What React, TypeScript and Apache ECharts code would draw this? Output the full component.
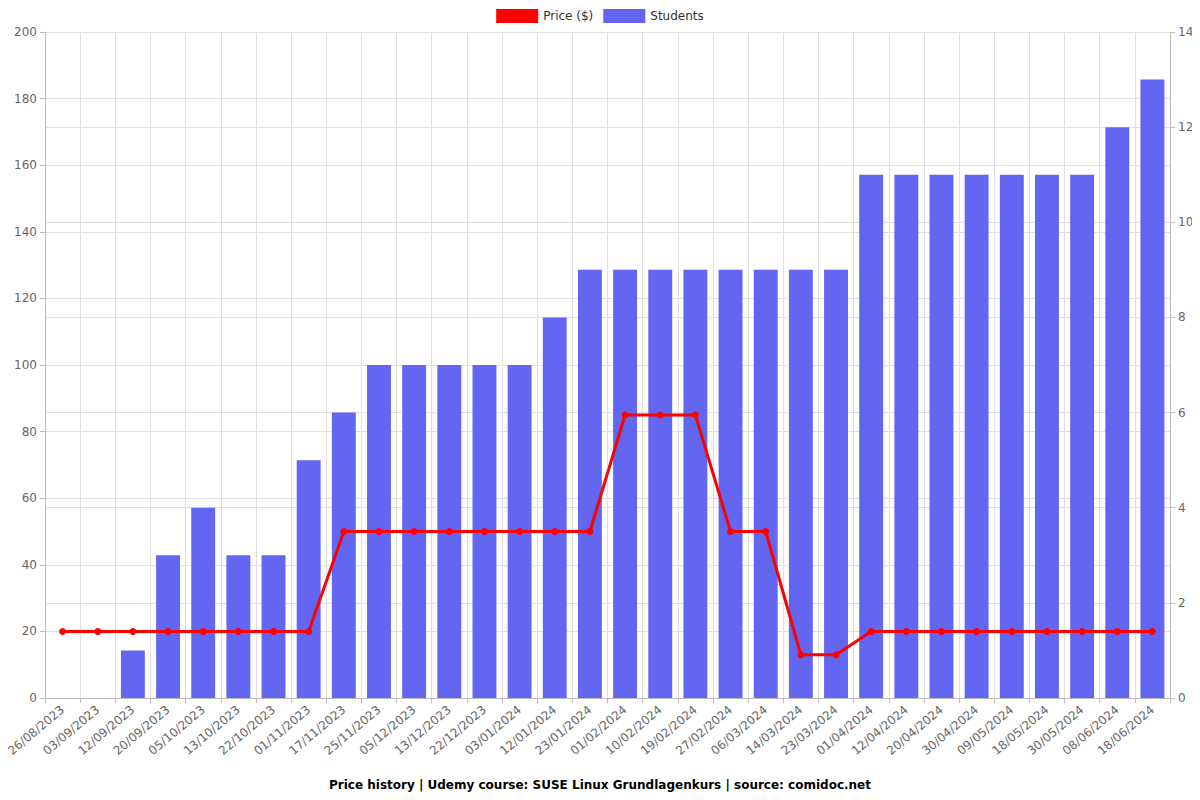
import React, { useEffect, useRef } from "react";
import * as echarts from "echarts";

const categories = ["26/08/2023","03/09/2023","12/09/2023","20/09/2023","05/10/2023","13/10/2023","22/10/2023","01/11/2023","17/11/2023","25/11/2023","05/12/2023","13/12/2023","22/12/2023","03/01/2024","12/01/2024","23/01/2024","01/02/2024","10/02/2024","19/02/2024","27/02/2024","06/03/2024","14/03/2024","23/03/2024","01/04/2024","12/04/2024","20/04/2024","30/04/2024","09/05/2024","18/05/2024","30/05/2024","08/06/2024","18/06/2024"];
const prices = [19.99,19.99,19.99,19.99,19.99,19.99,19.99,19.99,49.99,49.99,49.99,49.99,49.99,49.99,49.99,49.99,84.99,84.99,84.99,49.99,49.99,12.99,12.99,19.99,19.99,19.99,19.99,19.99,19.99,19.99,19.99,19.99];
const students = [0,0,1,3,4,3,3,5,6,7,7,7,7,7,8,9,9,9,9,9,9,9,9,11,11,11,11,11,11,11,12,13];

export default function App() {
  const ref = useRef<HTMLDivElement>(null);
  useEffect(() => {
    const chart = echarts.init(ref.current!, null, { renderer: "svg" });
    chart.setOption({
      animation: false,
      textStyle: { fontFamily: "DejaVu Sans" },
      title: {
        text: "Price history | Udemy course: SUSE Linux Grundlagenkurs | source: comidoc.net",
        left: "center",
        bottom: 4,
        textStyle: { fontSize: 12, fontWeight: "bold", color: "#000", fontFamily: "DejaVu Sans" },
      },
      legend: {
        top: 4,
        left: "center",
        itemWidth: 42,
        itemHeight: 14,
        itemGap: 10,
        textStyle: { fontSize: 12, color: "#333" },
        data: [
          { name: "Price ($)", icon: "rect", itemStyle: { color: "#ff0000" } },
          { name: "Students", icon: "rect", itemStyle: { color: "#6366f1" } },
        ],
      },
      grid: { left: 45, right: 30, top: 32, bottom: 102, containLabel: false, outerBoundsMode: "none" },
      xAxis: {
        type: "category",
        data: categories,
        boundaryGap: true,
        axisLine: { lineStyle: { color: "#bbb" } },
        axisTick: { show: true, alignWithLabel: false, lineStyle: { color: "#bbb" } },
        axisLabel: { rotate: 40, fontSize: 12, color: "#666", interval: 0, margin: 10 },
        splitLine: { show: true, lineStyle: { color: "#e0e0e0" } },
      },
      yAxis: [
        {
          type: "value",
          min: 0,
          max: 200,
          interval: 20,
          axisLine: { show: true, lineStyle: { color: "#bbb" } },
          axisTick: { show: true, lineStyle: { color: "#bbb" } },
          axisLabel: { fontSize: 12, color: "#666" },
          splitLine: { show: true, lineStyle: { color: "#e0e0e0" } },
        },
        {
          type: "value",
          min: 0,
          max: 14,
          interval: 2,
          position: "right",
          axisLine: { show: true, lineStyle: { color: "#bbb" } },
          axisTick: { show: true, lineStyle: { color: "#bbb" } },
          axisLabel: { fontSize: 12, color: "#666" },
          splitLine: { show: true, lineStyle: { color: "#e0e0e0" } },
        },
      ],
      series: [
        {
          name: "Price ($)",
          type: "line",
          yAxisIndex: 0,
          data: prices,
          z: 3,
          symbol: "circle",
          symbolSize: 7,
          lineStyle: { color: "#ff0000", width: 3 },
          itemStyle: { color: "#ff0000" },
        },
        {
          name: "Students",
          type: "bar",
          yAxisIndex: 1,
          data: students,
          barCategoryGap: "32%",
          z: 2,
          itemStyle: { color: "#6366f1" },
        },
      ],
    });
    return () => chart.dispose();
  }, []);
  return <div ref={ref} style={{ width: 1200, height: 800, margin: -8 }} />;
}
